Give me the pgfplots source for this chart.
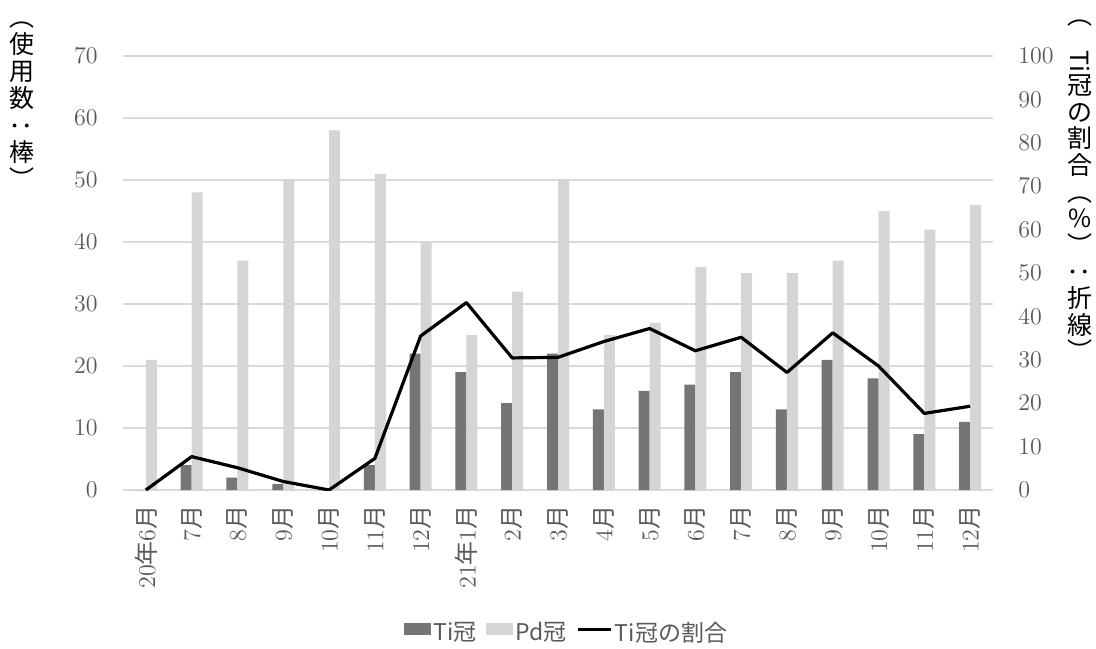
\documentclass[border=0pt]{standalone}
\usepackage{fontspec}
\usepackage{graphicx}
\usepackage{pgfplots}
\pgfplotsset{compat=1.18}
\newfontfamily\cjk{Noto Sans CJK JP}
\definecolor{tiGray}{HTML}{757575}
\definecolor{pdGray}{HTML}{D5D5D5}
\definecolor{gridGray}{HTML}{D9D9D9}
\definecolor{tickGray}{HTML}{595959}
\newcommand{\tsuki}{{\cjk 月}}
\newcommand{\nen}{{\cjk 年}}
% vertical-writing forms of brackets and colon
\newcommand{\vopen}{\rotatebox[origin=c]{-90}{（}}
\newcommand{\vclose}{\rotatebox[origin=c]{-90}{）}}
\newcommand{\vcolon}{\rotatebox[origin=c]{90}{：}}
\pgfplotsset{
  barleg/.style={legend image code/.code={\fill[##1] (0pt,-1pt) rectangle (13.5pt,5pt);}},
  lineleg/.style={legend image code/.code={\draw[##1] (0pt,2pt) -- (16.5pt,2pt);}},
}

\begin{document}
\begin{tikzpicture}
\useasboundingbox (-61.5pt,-79pt) rectangle (486.5pt,245pt);
% bars: crowns used per month (left scale)
\begin{axis}[
  at={(0,0)}, anchor=south west,
  scale only axis, width=435pt, height=217pt,
  xmin=-0.5, xmax=18.5, ymin=0, ymax=70,
  ybar=0pt, bar width=5.5pt,
  xtick={0,...,18},
  xticklabels={{20\nen 6\tsuki},{7\tsuki},{8\tsuki},{9\tsuki},{10\tsuki},{11\tsuki},{12\tsuki},
    {21\nen 1\tsuki},{2\tsuki},{3\tsuki},{4\tsuki},{5\tsuki},{6\tsuki},{7\tsuki},{8\tsuki},
    {9\tsuki},{10\tsuki},{11\tsuki},{12\tsuki}},
  ytick={0,10,...,70},
  major tick length=0pt,
  axis line style={draw=none},
  ymajorgrids, grid style={gridGray, line width=0.8pt},
  tick label style={font=\fontsize{12}{14}\selectfont, text=tickGray},
  xticklabel style={rotate=90, anchor=east, inner sep=0pt},
  xticklabel shift=7.5pt,
  yticklabel style={anchor=east, inner sep=0pt},
  yticklabel shift=12.5pt,
  legend style={at={(0.51,-0.33)}, anchor=center, draw=none, fill=none,
    legend columns=3, font=\cjk\fontsize{11.5}{13}\selectfont, text=tickGray,
    nodes={inner sep=1pt},
    /tikz/every even column/.append style={column sep=4pt}},
  legend cell align=left,
]
\addplot[fill=tiGray, draw=none, barleg]
  coordinates {(0,0) (1,4) (2,2) (3,1) (4,0) (5,4) (6,22) (7,19) (8,14) (9,22)
               (10,13) (11,16) (12,17) (13,19) (14,13) (15,21) (16,18) (17,9) (18,11)};
\addlegendentry{Ti冠}
\addplot[fill=pdGray, draw=none, barleg]
  coordinates {(0,21) (1,48) (2,37) (3,50) (4,58) (5,51) (6,40) (7,25) (8,32) (9,50)
               (10,25) (11,27) (12,36) (13,35) (14,35) (15,37) (16,45) (17,42) (18,46)};
\addlegendentry{Pd冠}
\addlegendimage{black, line width=1.6pt, lineleg}
\addlegendentry{Ti冠の割合}
\end{axis}
% line: share of Ti crowns in percent (right scale)
\begin{axis}[
  at={(0,0)}, anchor=south west,
  scale only axis, width=435pt, height=217pt,
  xmin=-0.5, xmax=18.5, ymin=0, ymax=100,
  xtick=\empty,
  ytick={0,10,...,100},
  yticklabel pos=right,
  major tick length=0pt,
  axis line style={draw=none},
  tick label style={font=\fontsize{12}{14}\selectfont, text=tickGray},
  yticklabel style={anchor=west, inner sep=0pt},
  yticklabel shift=12.5pt,
]
\addplot[black, line width=1.6pt, line join=round, mark=none]
  coordinates {(0,0) (1,7.69) (2,5.13) (3,1.96) (4,0) (5,7.27) (6,35.48) (7,43.18)
               (8,30.43) (9,30.56) (10,34.21) (11,37.21) (12,32.08) (13,35.19)
               (14,27.08) (15,36.21) (16,28.57) (17,17.65) (18,19.30)};
\end{axis}
\node[anchor=north, align=center, inner sep=0pt,
  font=\cjk\fontsize{12.5}{13.5}\selectfont] at (-50.5pt,243pt)
  {\vopen\\使\\用\\数\\\vcolon\\棒\\\vclose};
\node[anchor=north, align=center, inner sep=0pt,
  font=\cjk\fontsize{12.5}{13.3}\selectfont] at (478.5pt,244pt)
  {\vopen\\\rotatebox{-90}{Ti}\\冠\\の\\割\\合\\\vopen\\\%\\\vclose\\\vcolon\\折\\線\\\vclose};
\end{tikzpicture}
\end{document}
